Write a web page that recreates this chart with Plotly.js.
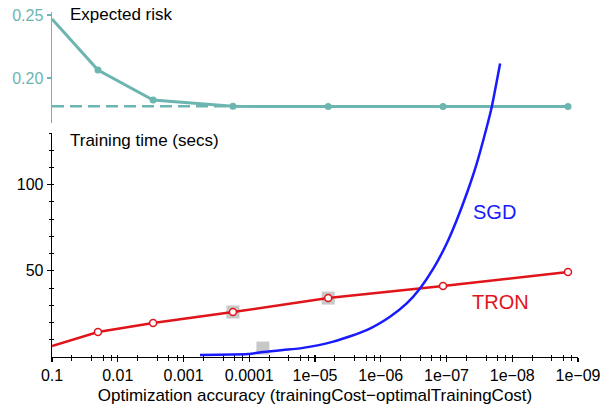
<!DOCTYPE html>
<html>
<head>
<meta charset="utf-8">
<script src="https://cdn.plot.ly/plotly-3.0.1.min.js"></script>
<style>html,body{margin:0;padding:0;background:#fff;}#chart{width:602px;height:418px;}</style>
</head>
<body>
<div id="chart"></div>
<script>
// Accuracy levels (x) for TRON / expected risk points
const accuracy = [0.1, 0.02, 0.0029, 0.000177, 6.3e-6, 1.13e-7, 1.42e-9];
const expectedRisk = [0.2468, 0.2063, 0.1825, 0.1775, 0.1774, 0.1773, 0.1773];
const riskAsymptote = 0.1775;
const tronTime = [6.4, 14.5, 19.7, 26.1, 34.2, 41.2, 49.3];
// SGD curve
const sgdAccuracy = [5.61e-4, 1.045e-4, 6.18e-5, 3.07e-5, 1.69e-5, 5.27e-6, 1.64e-6, 7.23e-7, 4.03e-7, 2.53e-7, 1.58e-7, 9.93e-8, 7.0e-8, 4.92e-8, 3.47e-8, 2.44e-8, 2.05e-8, 1.53e-8];
const sgdTime = [1.2, 1.7, 2.9, 4.1, 5.0, 8.9, 15.6, 23.4, 31.1, 39.8, 51.4, 65.9, 79.4, 94.9, 112.3, 133.5, 145.1, 170.3];
// gray square markers
const grayAccuracy = [0.000177, 6.3e-6, 6.2e-5];
const grayTime = [26.1, 34.2, 5.2];
// tick labels
const xTickVals = [0.1, 0.01, 0.001, 0.0001, 1e-5, 1e-6, 1e-7, 1e-8, 1e-9];
const xTickText = ["0.1", "0.01", "0.001", "0.0001", "1e\u221205", "1e\u221206", "1e\u221207", "1e\u221208", "1e\u221209"];
const minorFactors = [1/2, 1/4, 1/6, 1/8];
const yTimeTicks = [50, 100];
const yTimeMinor = [10, 20, 30, 40, 60, 70, 80, 90, 110, 120, 130];
const yRiskTicks = [0.20, 0.25];
const yRiskText = ["0.20", "0.25"];

const xMinor = [];
for (let d = 0; d < 8; d++) {
  const base = xTickVals[d];
  minorFactors.forEach(f => xMinor.push(base * f));
}

const TEAL = '#6db5b0';
const RED = '#e0141a';
const BLUE = '#1a1aff';
const FONT = 'Liberation Sans, Arial, Helvetica, sans-serif';

const dTime = [0, 0.6455];
const dRisk = [0.6744, 0.9942];
const dSgd = [0, 0.9942];
const timeMax = 130;
const sgdMax = timeMax * (dSgd[1] - dSgd[0]) / (dTime[1] - dTime[0]);

const traces = [
  {x: [accuracy[0], accuracy[accuracy.length-1]], y: [riskAsymptote, riskAsymptote], xaxis: 'x', yaxis: 'y',
   mode: 'lines', line: {color: TEAL, width: 2.5, dash: '12px,6px'}, hoverinfo: 'skip'},
  {x: accuracy, y: expectedRisk, xaxis: 'x', yaxis: 'y', mode: 'lines+markers',
   line: {color: TEAL, width: 3}, marker: {color: TEAL, size: 7}, cliponaxis: false},
  {x: grayAccuracy, y: grayTime, xaxis: 'x', yaxis: 'y2', mode: 'markers',
   marker: {symbol: 'square', size: 13, color: '#c8c8c8'}},
  {x: accuracy, y: tronTime, xaxis: 'x', yaxis: 'y2', mode: 'lines+markers',
   line: {color: RED, width: 2.5}, marker: {color: '#ffffff', size: 7, line: {color: RED, width: 1.5}}, cliponaxis: false},
  {x: sgdAccuracy, y: sgdTime, xaxis: 'x', yaxis: 'y3', mode: 'lines',
   line: {color: BLUE, width: 2.5, shape: 'spline', smoothing: 0.6}},
  {x: [], y: [], xaxis: 'x2', yaxis: 'y4', mode: 'markers'}
];

const layout = {
  width: 602, height: 418,
  margin: {l: 52, r: 24, t: 10, b: 61},
  paper_bgcolor: '#ffffff', plot_bgcolor: 'rgba(0,0,0,0)',
  showlegend: false,
  font: {family: FONT, size: 16, color: '#000'},
  xaxis: {
    type: 'log', range: [-1, -9], domain: [0, 1], anchor: 'y2',
    tickmode: 'array', tickvals: xTickVals, ticktext: xTickText,
    ticks: 'outside', ticklen: 4, tickwidth: 1.2, tickcolor: '#000',
    showline: true, linecolor: '#000', linewidth: 1.3,
    showgrid: false, zeroline: false,
    tickfont: {size: 16, color: '#000'},
    ticklabelstandoff: -1,
    minor: {tickmode: 'array', tickvals: xMinor, ticks: 'outside', ticklen: 3, tickwidth: 1, tickcolor: '#000', showgrid: false},
    title: {text: 'Optimization accuracy (trainingCost\u2212optimalTrainingCost)', font: {size: 17, color: '#000'}, standoff: 6}
  },
  xaxis2: {
    type: 'log', range: [-1, -9], overlaying: 'x', anchor: 'y2', matches: 'x',
    tickmode: 'array', tickvals: xTickVals, ticks: 'inside', ticklen: 2, tickwidth: 1.2, tickcolor: '#000',
    showticklabels: false, showline: false, showgrid: false, zeroline: false,
    minor: {tickmode: 'array', tickvals: xMinor, ticks: 'inside', ticklen: 2, tickwidth: 1, tickcolor: '#000', showgrid: false}
  },
  yaxis: {
    domain: dRisk, range: [0.1643, 0.2524], anchor: 'x',
    tickmode: 'array', tickvals: yRiskTicks, ticktext: yRiskText,
    ticks: 'outside', ticklen: 4, tickwidth: 1.2, tickcolor: TEAL,
    showline: true, linecolor: TEAL, linewidth: 1.5,
    showgrid: false, zeroline: false,
    tickfont: {size: 16, color: TEAL}
  },
  yaxis2: {
    domain: dTime, range: [0, timeMax], anchor: 'x',
    tickmode: 'array', tickvals: yTimeTicks,
    ticks: 'outside', ticklen: 4, tickwidth: 1.2, tickcolor: '#000',
    showline: true, linecolor: '#000', linewidth: 1.3,
    showgrid: false, zeroline: false,
    tickfont: {size: 16, color: '#000'},
    minor: {tickmode: 'array', tickvals: yTimeMinor, ticks: 'outside', ticklen: 2, tickwidth: 1, tickcolor: '#000', showgrid: false}
  },
  yaxis3: {
    domain: dSgd, range: [0, sgdMax], anchor: 'x', visible: false, showgrid: false, zeroline: false
  },
  yaxis4: {
    domain: dTime, range: [0, timeMax], anchor: 'x2', overlaying: 'y2',
    tickmode: 'array', tickvals: yTimeTicks, ticks: 'inside', ticklen: 2, tickwidth: 1.2, tickcolor: '#000',
    showticklabels: false, showline: false, showgrid: false, zeroline: false,
    minor: {tickmode: 'array', tickvals: yTimeMinor, ticks: 'inside', ticklen: 2, tickwidth: 1, tickcolor: '#000', showgrid: false}
  },
  annotations: [
    {text: 'Expected risk', xref: 'paper', yref: 'paper', x: 0.0304, y: 0.9856, xanchor: 'left', yanchor: 'middle', showarrow: false, font: {size: 17, color: '#000'}},
    {text: 'Training time (secs)', xref: 'paper', yref: 'paper', x: 0.0304, y: 0.6225, xanchor: 'left', yanchor: 'middle', showarrow: false, font: {size: 17, color: '#000'}},
    {text: 'SGD', xref: 'paper', yref: 'paper', x: 0.842, y: 0.4179, xanchor: 'center', yanchor: 'middle', showarrow: false, font: {size: 20, color: BLUE}},
    {text: 'TRON', xref: 'paper', yref: 'paper', x: 0.8536, y: 0.1585, xanchor: 'center', yanchor: 'middle', showarrow: false, font: {size: 20, color: RED}}
  ]
};

Plotly.newPlot('chart', traces, layout, {displayModeBar: false, staticPlot: true});
</script>
</body>
</html>
